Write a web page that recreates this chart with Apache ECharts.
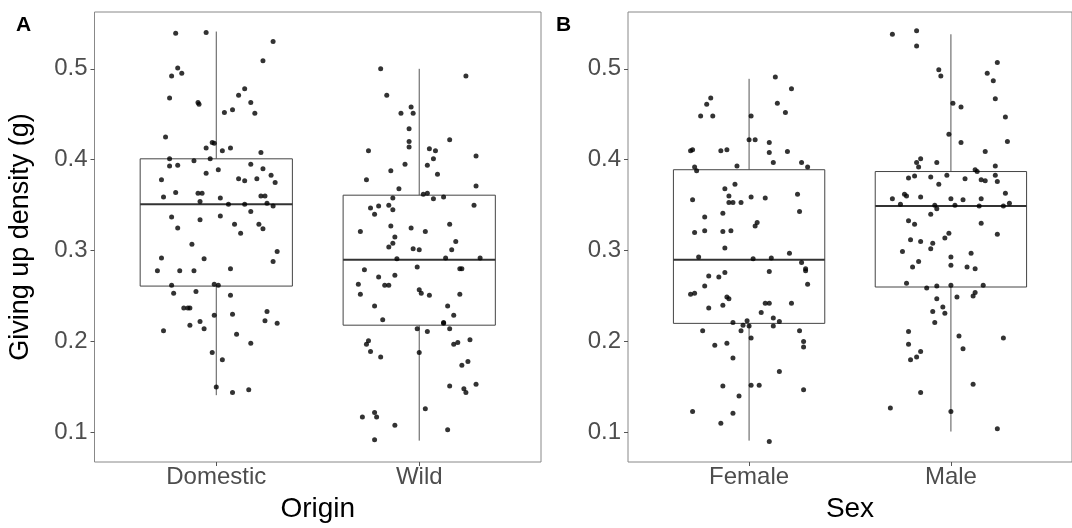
<!DOCTYPE html>
<html>
<head>
<meta charset="utf-8">
<script src="https://cdn.jsdelivr.net/npm/echarts@6/dist/echarts.min.js"></script>
<style>
  html, body { margin: 0; padding: 0; background: #fff; }
  #chart { width: 1072px; height: 528px; }
</style>
</head>
<body>
<div id="chart"></div>
<script>
// categories and tick labels
const originCats = ['Domestic', 'Wild']
const sexCats = ['Female', 'Male']
const yTicks = [0.1, 0.2, 0.3, 0.4, 0.5]
const yMin = 0.0675
const yMax = 0.5625

// box stats: [lower whisker, Q1, median, Q3, upper whisker]
const originBox = [
  [0.141, 0.261, 0.351, 0.401, 0.541],
  [0.091, 0.218, 0.290, 0.361, 0.500]
]
const sexBox = [
  [0.091, 0.220, 0.290, 0.389, 0.489],
  [0.101, 0.260, 0.349, 0.387, 0.538]
]

// jittered observations (value, horizontal jitter in category units)
const domesticVals = [0.539,0.540,0.530,0.509,0.501,0.495,0.492,0.478,0.471,0.468,0.463,0.461,0.463,0.455,0.452,0.451,0.425,0.419,0.418,0.413,0.413,0.410,0.408,0.401,0.399,0.401,0.395,0.393,0.394,0.389,0.390,0.385,0.383,0.378,0.379,0.377,0.379,0.375,0.364,0.363,0.363,0.359,0.358,0.360,0.360,0.354,0.351,0.351,0.352,0.349,0.343,0.337,0.338,0.334,0.329,0.329,0.324,0.325,0.319,
  0.307,0.299,0.292,0.291,0.288,0.278,0.278,0.278,0.280,0.262,0.263,0.262,0.253,0.255,0.251,0.237,0.237,0.237,0.233,0.229,0.230,0.223,0.220,0.222,0.218,0.214,0.212,0.208,0.198,0.188,0.180,0.150,0.144,0.147]
const domesticJit = [-0.20,-0.05,0.28,0.23,-0.19,-0.17,-0.22,0.14,0.11,-0.23,-0.09,-0.085,0.17,0.08,0.04,0.19,-0.25,-0.02,-0.01,-0.05,0.07,0.03,0.22,-0.23,-0.11,-0.03,0.17,-0.23,-0.19,0.01,0.23,-0.05,0.27,-0.27,0.11,0.14,0.20,0.29,-0.20,-0.09,-0.07,-0.26,0.02,0.22,0.24,-0.08,0.06,0.14,0.25,0.28,0.17,-0.22,0.02,-0.08,0.09,0.21,0.23,-0.19,0.12,
  -0.12,0.30,-0.27,-0.06,0.28,-0.29,-0.18,-0.11,0.07,-0.22,-0.01,0.01,-0.21,-0.10,0.07,-0.16,-0.14,-0.13,0.25,-0.01,0.08,0.24,0.30,-0.08,-0.13,-0.06,-0.26,0.10,0.17,-0.02,0.03,0.00,0.08,0.16]

const wildVals = [0.500,0.492,0.471,0.458,0.451,0.451,0.434,0.422,0.420,0.414,0.410,0.412,0.410,0.404,0.401,0.395,0.394,0.388,0.384,0.378,0.371,0.368,0.362,0.363,0.358,0.357,0.359,0.347,0.349,0.350,0.345,0.350,0.340,0.327,0.325,0.329,0.321,0.321,0.315,
  0.310,0.304,0.308,0.302,0.301,0.301,0.291,0.292,0.292,0.279,0.282,0.280,0.280,0.271,0.273,0.263,0.262,0.262,0.252,0.257,0.253,0.251,0.252,0.239,0.239,0.229,0.224,0.220,0.221,0.214,0.211,0.214,0.201,0.197,0.197,0.199,0.202,0.189,0.183,0.188,0.174,0.178,0.151,0.148,0.144,0.153,0.126,0.122,0.117,0.117,0.108,0.103,0.092]
const wildJit = [-0.19,0.23,-0.16,-0.04,-0.09,-0.03,-0.05,0.15,-0.05,-0.05,-0.25,0.05,0.08,0.28,0.07,-0.07,0.04,-0.14,0.09,-0.26,0.28,-0.10,0.02,0.04,-0.13,0.07,0.12,-0.24,-0.20,-0.15,-0.13,0.27,-0.22,-0.14,-0.04,0.15,-0.29,0.03,-0.12,
  0.18,-0.15,-0.13,-0.03,0.00,0.16,-0.11,0.13,0.30,-0.27,-0.01,0.20,0.21,-0.20,-0.12,-0.30,-0.17,-0.15,-0.29,0.00,0.01,0.05,0.20,-0.22,0.14,0.17,-0.18,0.12,0.12,-0.01,0.04,0.15,-0.25,-0.26,0.17,0.19,0.25,-0.24,-0.19,0.00,0.21,0.24,0.15,0.22,0.23,0.28,0.03,-0.22,-0.28,-0.21,-0.12,0.14,-0.22]

const femaleVals = [0.491,0.478,0.468,0.461,0.462,0.448,0.448,0.448,0.452,0.422,0.422,0.419,0.410,0.411,0.410,0.411,0.408,0.409,0.392,0.388,0.393,0.397,0.397,0.392,0.373,0.368,0.360,0.356,0.353,0.353,0.353,0.359,0.358,0.362,0.337,0.341,0.343,0.331,0.327,0.320,0.322,0.321,0.322,
  0.303,0.293,0.291,0.292,0.297,0.287,0.277,0.280,0.278,0.272,0.271,0.276,0.261,0.263,0.252,0.253,0.249,0.247,0.237,0.240,0.242,0.242,0.242,0.232,0.221,0.218,0.223,0.217,0.212,0.226,0.222,0.217,0.212,0.212,0.204,0.200,0.194,0.196,0.198,0.182,0.167,0.151,0.152,0.152,0.147,0.140,0.123,0.121,0.110,0.090]
const femaleJit = [0.13,0.21,-0.19,-0.21,0.14,-0.24,-0.18,0.01,0.18,0.00,0.03,0.10,-0.29,-0.28,-0.14,-0.11,0.10,0.19,-0.27,-0.26,-0.06,0.12,0.26,0.29,-0.07,-0.12,-0.10,-0.28,-0.10,-0.08,-0.04,0.01,0.08,0.24,-0.22,-0.13,0.25,0.04,0.03,-0.27,-0.22,-0.13,-0.09,
  -0.12,-0.25,0.02,0.11,0.20,0.26,0.10,0.28,0.28,-0.20,-0.15,-0.12,-0.22,0.29,-0.29,-0.27,-0.11,-0.10,-0.20,-0.13,0.08,0.10,0.21,0.06,-0.08,-0.03,-0.01,0.00,-0.04,0.12,0.15,0.12,0.25,-0.23,0.01,0.27,0.27,-0.17,-0.11,-0.08,0.15,-0.13,0.01,0.05,0.27,-0.05,-0.28,-0.08,-0.14,0.10]

const maleVals = [0.538,0.542,0.525,0.507,0.499,0.492,0.495,0.487,0.467,0.462,0.458,0.447,0.428,0.419,0.420,0.409,0.397,0.401,0.397,0.392,0.389,0.387,0.393,0.380,0.382,0.381,0.383,0.383,0.379,0.378,0.377,0.373,0.376,0.362,0.360,0.363,0.357,0.359,0.357,0.356,0.357,0.351,0.350,0.346,0.350,0.349,0.349,0.352,0.340,0.333,0.329,0.330,0.319,0.318,
  0.314,0.312,0.310,0.308,0.302,0.299,0.297,0.293,0.288,0.282,0.284,0.282,0.280,0.264,0.259,0.261,0.262,0.262,0.254,0.250,0.249,0.247,0.238,0.233,0.231,0.221,0.211,0.206,0.204,0.197,0.189,0.183,0.180,0.192,0.153,0.144,0.127,0.123,0.104]
const maleJit = [-0.29,-0.17,-0.17,0.23,-0.06,-0.05,0.18,0.21,0.22,0.01,0.05,0.27,-0.01,0.05,0.28,0.17,-0.17,-0.15,-0.07,-0.16,0.12,0.13,0.22,-0.21,-0.18,-0.10,-0.02,0.22,0.07,0.15,0.17,-0.06,0.23,-0.23,-0.22,0.27,-0.29,-0.15,0.00,0.06,0.15,-0.25,-0.08,-0.07,0.02,0.14,0.26,0.29,-0.10,-0.21,-0.18,0.15,-0.01,0.23,
  -0.03,-0.20,-0.15,-0.09,-0.10,-0.24,0.10,0.00,-0.16,-0.19,0.00,0.08,0.12,-0.22,-0.12,-0.07,0.00,0.16,0.12,0.11,0.03,-0.07,-0.04,-0.09,-0.03,-0.08,-0.21,0.04,0.26,-0.21,-0.15,-0.17,-0.20,0.06,0.11,-0.15,-0.30,0.00,0.23]

const FONT = '"Liberation Sans", Arial, sans-serif'
const BOX_HALF = 0.375

const toPoints = (vals, jit, pos) => vals.map((v, i) => [pos + jit[i], v])
const toBoxes = (stats) => stats.map((s, i) => [i + 1].concat(s))

// box + whiskers, drawn through the axis scales
const renderBox = (params, api) => {
  const x = api.value(0)
  const lo = api.value(1), q1 = api.value(2), med = api.value(3)
  const q3 = api.value(4), hi = api.value(5)
  const tl = api.coord([x - BOX_HALF, q3])
  const br = api.coord([x + BOX_HALF, q1])
  const mL = api.coord([x - BOX_HALF, med])
  const mR = api.coord([x + BOX_HALF, med])
  const wTop = api.coord([x, hi])
  const wQ3 = api.coord([x, q3])
  const wQ1 = api.coord([x, q1])
  const wBot = api.coord([x, lo])
  const line = { stroke: '#555', lineWidth: 1 }
  return {
    type: 'group',
    children: [
      { type: 'line', shape: { x1: wTop[0], y1: wTop[1], x2: wQ3[0], y2: wQ3[1] }, style: line },
      { type: 'line', shape: { x1: wQ1[0], y1: wQ1[1], x2: wBot[0], y2: wBot[1] }, style: line },
      {
        type: 'rect',
        shape: { x: tl[0], y: tl[1], width: br[0] - tl[0], height: br[1] - tl[1] },
        style: { fill: '#fff', stroke: '#444', lineWidth: 1 }
      },
      {
        type: 'line',
        shape: { x1: mL[0], y1: mL[1], x2: mR[0], y2: mR[1] },
        style: { stroke: '#333', lineWidth: 2 }
      }
    ]
  }
}

const xAxisFor = (gridIndex, cats, name) => ({
  gridIndex,
  type: 'value',
  min: 0.4,
  max: 2.6,
  name,
  nameLocation: 'middle',
  nameGap: 33,
  nameTextStyle: { fontFamily: FONT, fontSize: 28, color: '#000' },
  axisLine: { show: false },
  splitLine: { show: false },
  axisTick: { show: true, customValues: [1, 2], length: 4, lineStyle: { color: '#555' } },
  axisLabel: {
    customValues: [1, 2],
    margin: 3,
    fontFamily: FONT,
    fontSize: 24,
    color: '#4d4d4d',
    formatter: (v) => cats[Math.round(v) - 1] || ''
  }
})

const yAxisFor = (gridIndex, name) => ({
  gridIndex,
  type: 'value',
  min: yMin,
  max: yMax,
  name,
  nameLocation: 'middle',
  nameGap: 60,
  nameTextStyle: { fontFamily: FONT, fontSize: 27, color: '#000' },
  axisLine: { show: false },
  splitLine: { show: false },
  axisTick: { show: true, customValues: yTicks, length: 4, lineStyle: { color: '#555' } },
  axisLabel: {
    customValues: yTicks,
    margin: 7,
    fontFamily: FONT,
    fontSize: 24,
    color: '#4d4d4d',
    formatter: (v) => v.toFixed(1)
  }
})

const chart = echarts.init(document.getElementById('chart'), null, { renderer: 'canvas' })

const option = {
  animation: false,
  backgroundColor: '#fff',
  grid: [
    { left: 94.5, right: 531, top: 12, bottom: 65, show: true, borderColor: '#888', borderWidth: 1, backgroundColor: 'transparent' },
    { left: 628, right: -8.5, top: 12, bottom: 65, show: true, borderColor: '#888', borderWidth: 1, backgroundColor: 'transparent' }
  ],
  xAxis: [xAxisFor(0, originCats, 'Origin'), xAxisFor(1, sexCats, 'Sex')],
  yAxis: [yAxisFor(0, 'Giving up density (g)'), yAxisFor(1, '')],
  graphic: [
    { type: 'text', left: 16, top: 15, style: { text: 'A', font: 'bold 21px ' + FONT, fill: '#000' } },
    { type: 'text', left: 556, top: 15, style: { text: 'B', font: 'bold 21px ' + FONT, fill: '#000' } }
  ],
  series: [
    {
      type: 'custom',
      xAxisIndex: 0,
      yAxisIndex: 0,
      z: 2,
      renderItem: renderBox,
      data: toBoxes(originBox)
    },
    {
      type: 'custom',
      xAxisIndex: 1,
      yAxisIndex: 1,
      z: 2,
      renderItem: renderBox,
      data: toBoxes(sexBox)
    },
    {
      type: 'scatter',
      xAxisIndex: 0,
      yAxisIndex: 0,
      z: 3,
      symbolSize: 5,
      itemStyle: { color: '#000' },
      data: toPoints(domesticVals, domesticJit, 1).concat(toPoints(wildVals, wildJit, 2))
    },
    {
      type: 'scatter',
      xAxisIndex: 1,
      yAxisIndex: 1,
      z: 3,
      symbolSize: 5,
      itemStyle: { color: '#000' },
      data: toPoints(femaleVals, femaleJit, 1).concat(toPoints(maleVals, maleJit, 2))
    }
  ]
}

chart.setOption(option)
</script>
</body>
</html>
